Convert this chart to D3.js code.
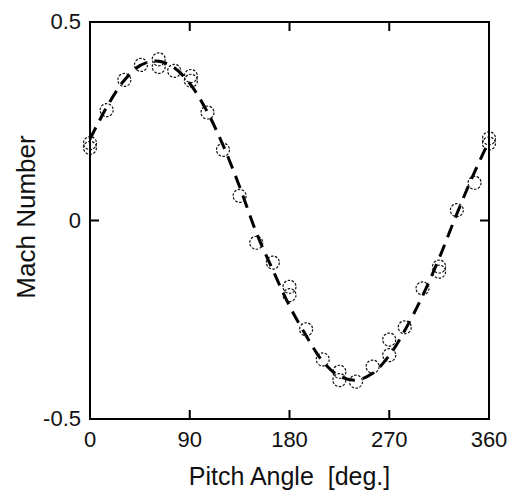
<!DOCTYPE html>
<html>
<head>
<meta charset="utf-8">
<script src="https://cdn.jsdelivr.net/npm/d3@7/dist/d3.min.js"></script>
<style>
    html, body { margin: 0; padding: 0; background: #fff; }
    svg text { font-family: 'Liberation Sans', Arial, sans-serif; fill: #111; }
</style>
</head>
<body>
<div id="chart"></div>
<script>
// measured points (circles)
const pitchAngles = [0, 0, 15, 31, 46, 62, 62, 76, 91, 91, 106, 120, 135, 150, 165, 180, 180,
    195, 210, 225, 225, 240, 255, 270, 270, 284, 300, 315, 315, 331, 347, 360, 360];
const machValues = [0.195, 0.183, 0.278, 0.354, 0.392, 0.406, 0.387, 0.377, 0.364, 0.352, 0.272,
    0.178, 0.062, -0.056, -0.106, -0.167, -0.188, -0.274, -0.35, -0.381, -0.402, -0.406, -0.368,
    -0.300, -0.339, -0.269, -0.171, -0.116, -0.129, 0.026, 0.095, 0.207, 0.194];

// fitted curve (dashed line)
const fitAngles = [0, 15, 30, 45, 60, 75, 90, 105, 120, 135, 150, 165, 180, 195, 210, 225,
    240, 255, 270, 285, 300, 315, 330, 345, 360];
const fitMach = [0.205, 0.285, 0.350, 0.390, 0.402, 0.387, 0.345, 0.278, 0.190, 0.085, -0.030,
    -0.125, -0.215, -0.290, -0.355, -0.392, -0.402, -0.385, -0.340, -0.272, -0.190, -0.095,
    0.010, 0.110, 0.200];

const xTicks = [0, 90, 180, 270, 360];
const yTicks = [-0.5, 0, 0.5];
const yTickLabels = ['-0.5', '0', '0.5'];

let width = 516,
    height = 492,
    plot = { left: 90, right: 489, top: 22, bottom: 419 },
    tickLen = 9,
    svg,
    x,
    y;

svg = d3.select('#chart')
    .append('svg')
        .attr('width', width)
        .attr('height', height);

x = d3.scaleLinear()
    .domain([0, 360])
    .range([plot.left, plot.right]);

y = d3.scaleLinear()
    .domain([-0.5, 0.5])
    .range([plot.bottom, plot.top]);

// fitted dashed curve
svg.append('path')
    .datum(fitAngles.map((a, i) => [a, fitMach[i]]))
    .attr('fill', 'none')
    .attr('stroke', '#000')
    .attr('stroke-width', 3)
    .attr('stroke-dasharray', '13,8')
    .attr('d', d3.line()
        .x(d => x(d[0]))
        .y(d => y(d[1]))
        .curve(d3.curveCatmullRom));

// data circles
svg.append('g')
    .selectAll('circle')
    .data(pitchAngles)
    .enter()
    .append('circle')
        .attr('cx', d => x(d))
        .attr('cy', (d, i) => y(machValues[i]))
        .attr('r', 6.5)
        .attr('fill', 'none')
        .attr('stroke', '#111')
        .attr('stroke-width', 1.2)
        .attr('stroke-dasharray', '2.5,1.5');

// frame
svg.append('rect')
    .attr('x', plot.left)
    .attr('y', plot.top)
    .attr('width', plot.right - plot.left)
    .attr('height', plot.bottom - plot.top)
    .attr('fill', 'none')
    .attr('stroke', '#000')
    .attr('stroke-width', 2);

// inward ticks on all sides
svg.append('g')
    .selectAll('path')
    .data(xTicks)
    .enter()
    .append('path')
        .attr('stroke', '#000')
        .attr('stroke-width', 2)
        .attr('d', d => 'M' + x(d) + ',' + plot.bottom + 'V' + (plot.bottom - tickLen) +
            'M' + x(d) + ',' + plot.top + 'V' + (plot.top + tickLen));

svg.append('g')
    .selectAll('path')
    .data(yTicks)
    .enter()
    .append('path')
        .attr('stroke', '#000')
        .attr('stroke-width', 2)
        .attr('d', d => 'M' + plot.left + ',' + y(d) + 'H' + (plot.left + tickLen) +
            'M' + plot.right + ',' + y(d) + 'H' + (plot.right - tickLen));

// tick labels
svg.append('g')
    .selectAll('text')
    .data(xTicks)
    .enter()
    .append('text')
        .text(d => d)
        .attr('x', d => x(d))
        .attr('y', plot.bottom + 28)
        .attr('text-anchor', 'middle')
        .style('font-size', '22px');

svg.append('g')
    .selectAll('text')
    .data(yTicks)
    .enter()
    .append('text')
        .text((d, i) => yTickLabels[i])
        .attr('x', plot.left - 9)
        .attr('y', d => y(d))
        .attr('dy', '0.33em')
        .attr('text-anchor', 'end')
        .style('font-size', '22px');

// axis titles
svg.append('text')
    .text('Pitch Angle  [deg.]')
    .attr('x', (plot.left + plot.right) / 2)
    .attr('y', 485)
    .attr('text-anchor', 'middle')
    .style('white-space', 'pre')
    .style('font-size', '25px');

svg.append('text')
    .text('Mach Number')
    .attr('transform', 'translate(35,' + 217 + ') rotate(-90)')
    .attr('text-anchor', 'middle')
    .style('font-size', '26px');
</script>
</body>
</html>
